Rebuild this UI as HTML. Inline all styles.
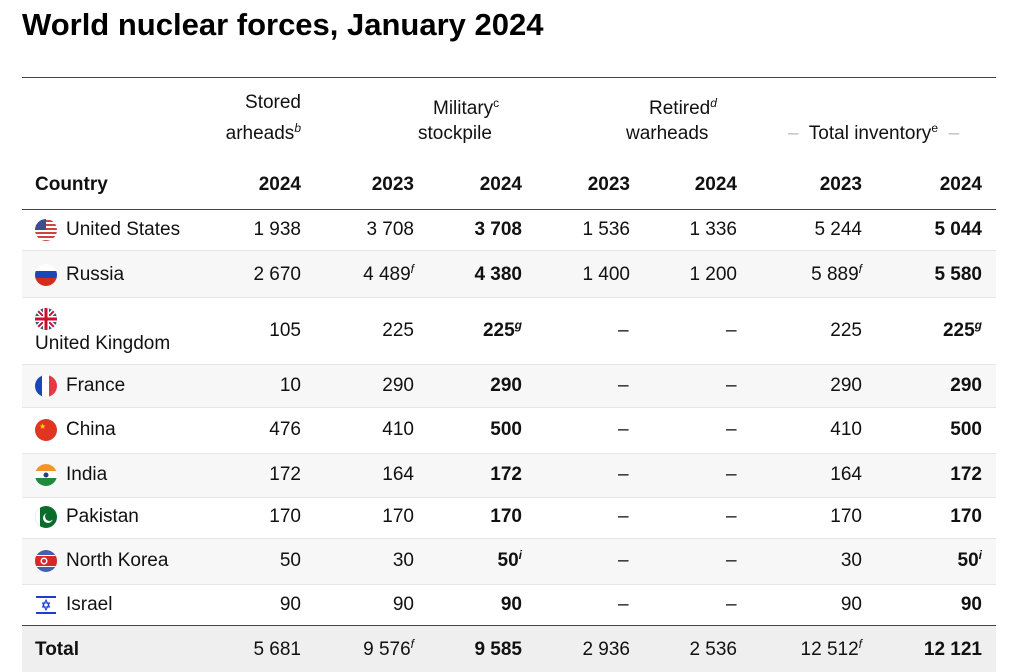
<!DOCTYPE html><html><head><style>
body{margin:0;width:1024px;height:672px;background:#fff;font-family:"Liberation Sans",sans-serif;color:#111;position:relative;overflow:hidden}
.a{position:absolute;white-space:nowrap;font-size:19px;line-height:22px}
.r{text-align:right;width:120px}
.b{font-weight:bold}
.bg{position:absolute;left:22px;width:974px}
.ln{position:absolute;left:22px;width:974px;height:1px}
sup{font-size:12px;font-style:italic;vertical-align:7px;line-height:0}
svg{position:absolute}
</style></head><body>
<div class="a" style="left:22px;top:6px;font-size:31px;line-height:38px;font-weight:bold;color:#000">World nuclear forces, January 2024</div>
<div class="ln" style="top:77px;background:#444"></div>
<div class="ln" style="top:209px;background:#444"></div>
<div class="bg" style="top:251px;height:46px;background:#f7f7f7"></div>
<div class="bg" style="top:364px;height:43px;background:#f7f7f7"></div>
<div class="bg" style="top:453px;height:44px;background:#f7f7f7"></div>
<div class="bg" style="top:538px;height:46px;background:#f7f7f7"></div>
<div class="bg" style="top:626px;height:46px;background:#efefef"></div>
<div class="ln" style="top:250px;background:#e6e6e6"></div>
<div class="ln" style="top:297px;background:#e6e6e6"></div>
<div class="ln" style="top:364px;background:#e6e6e6"></div>
<div class="ln" style="top:407px;background:#e6e6e6"></div>
<div class="ln" style="top:453px;background:#e6e6e6"></div>
<div class="ln" style="top:497px;background:#e6e6e6"></div>
<div class="ln" style="top:538px;background:#e6e6e6"></div>
<div class="ln" style="top:584px;background:#e6e6e6"></div>
<div class="ln" style="top:625px;background:#444"></div>

<div class="a r" style="left:181px;top:92px">Stored</div>
<div class="a r" style="left:181px;top:123px">arheads<sup>b</sup></div>
<div class="a" style="left:433px;top:98px">Military<sup style="font-style:normal">c</sup></div>
<div class="a" style="left:418px;top:123px">stockpile</div>
<div class="a" style="left:649px;top:98px">Retired<sup>d</sup></div>
<div class="a" style="left:626px;top:123px">warheads</div>
<div class="a" style="left:788px;top:123px"><span style="color:#bbb">–</span>&nbsp; Total inventory<sup style="font-style:normal">e</sup>&nbsp; <span style="color:#bbb">–</span></div>

<div class="a b" style="left:35px;top:174px">Country</div>
<div class="a r b" style="left:181px;top:174px">2024</div>
<div class="a r b" style="left:294px;top:174px">2023</div>
<div class="a r b" style="left:402px;top:174px">2024</div>
<div class="a r b" style="left:510px;top:174px">2023</div>
<div class="a r b" style="left:617px;top:174px">2024</div>
<div class="a r b" style="left:742px;top:174px">2023</div>
<div class="a r b" style="left:862px;top:174px">2024</div>

<svg style="left:35px;top:219px" width="22" height="22" viewBox="0 0 22 22"><clipPath id="c1"><circle cx="11" cy="11" r="11"/></clipPath><g clip-path="url(#c1)"><rect width="22" height="22" fill="#fff"/><g fill="#c44"><rect y="1" width="22" height="2"/><rect y="5" width="22" height="2"/><rect y="9" width="22" height="2"/><rect y="13" width="22" height="2"/><rect y="17" width="22" height="2"/><rect y="21" width="22" height="2"/></g><rect width="11" height="11" fill="#3c4f8a"/></g></svg>
<div class="a" style="left:66px;top:219px">United States</div>
<div class="a r" style="left:181px;top:219px">1 938</div><div class="a r" style="left:294px;top:219px">3 708</div><div class="a r b" style="left:402px;top:219px">3 708</div><div class="a r" style="left:510px;top:219px">1 536</div><div class="a r" style="left:617px;top:219px">1 336</div><div class="a r" style="left:742px;top:219px">5 244</div><div class="a r b" style="left:862px;top:219px">5 044</div>

<svg style="left:35px;top:264px" width="22" height="22"><clipPath id="c2"><circle cx="11" cy="11" r="11"/></clipPath><g clip-path="url(#c2)"><rect width="22" height="8" fill="#fff"/><rect y="7" width="22" height="8" fill="#1a47b8"/><rect y="14" width="22" height="8" fill="#d52b1e"/></g></svg>
<div class="a" style="left:66px;top:264px">Russia</div>
<div class="a r" style="left:181px;top:264px">2 670</div><div class="a r" style="left:294px;top:264px">4 489<sup>f</sup></div><div class="a r b" style="left:402px;top:264px">4 380</div><div class="a r" style="left:510px;top:264px">1 400</div><div class="a r" style="left:617px;top:264px">1 200</div><div class="a r" style="left:742px;top:264px">5 889<sup>f</sup></div><div class="a r b" style="left:862px;top:264px">5 580</div>

<svg style="left:35px;top:308px" width="22" height="22"><clipPath id="c3"><circle cx="11" cy="11" r="11"/></clipPath><g clip-path="url(#c3)"><rect width="22" height="22" fill="#3c4f8a"/><path d="M0 0L22 22M22 0L0 22" stroke="#fff" stroke-width="5"/><path d="M0 0L22 22M22 0L0 22" stroke="#c8102e" stroke-width="2"/><rect x="8" width="6" height="22" fill="#fff"/><rect y="8" width="22" height="6" fill="#fff"/><rect x="9.5" width="3" height="22" fill="#c8102e"/><rect y="9.5" width="22" height="3" fill="#c8102e"/></g></svg>
<div class="a" style="left:35px;top:333px">United Kingdom</div>
<div class="a r" style="left:181px;top:320px">105</div><div class="a r" style="left:294px;top:320px">225</div><div class="a r b" style="left:402px;top:320px">225<sup>g</sup></div><div class="a" style="left:618px;top:320px">–</div><div class="a" style="left:726px;top:320px">–</div><div class="a r" style="left:742px;top:320px">225</div><div class="a r b" style="left:862px;top:320px">225<sup>g</sup></div>

<svg style="left:35px;top:375px" width="22" height="22"><clipPath id="c4"><circle cx="11" cy="11" r="11"/></clipPath><g clip-path="url(#c4)"><rect width="8" height="22" fill="#1a47b8"/><rect x="7" width="8" height="22" fill="#fff"/><rect x="14" width="8" height="22" fill="#e63946"/></g></svg>
<div class="a" style="left:66px;top:375px">France</div>
<div class="a r" style="left:181px;top:375px">10</div><div class="a r" style="left:294px;top:375px">290</div><div class="a r b" style="left:402px;top:375px">290</div><div class="a" style="left:618px;top:375px">–</div><div class="a" style="left:726px;top:375px">–</div><div class="a r" style="left:742px;top:375px">290</div><div class="a r b" style="left:862px;top:375px">290</div>

<svg style="left:35px;top:419px" width="22" height="22"><circle cx="11" cy="11" r="11" fill="#e03522"/><text x="4" y="10" font-size="8" fill="#ffd500">★</text></svg>
<div class="a" style="left:66px;top:419px">China</div>
<div class="a r" style="left:181px;top:419px">476</div><div class="a r" style="left:294px;top:419px">410</div><div class="a r b" style="left:402px;top:419px">500</div><div class="a" style="left:618px;top:419px">–</div><div class="a" style="left:726px;top:419px">–</div><div class="a r" style="left:742px;top:419px">410</div><div class="a r b" style="left:862px;top:419px">500</div>

<svg style="left:35px;top:464px" width="22" height="22"><clipPath id="c6"><circle cx="11" cy="11" r="11"/></clipPath><g clip-path="url(#c6)"><rect width="22" height="8" fill="#f5922b"/><rect y="7" width="22" height="8" fill="#fff"/><rect y="14" width="22" height="8" fill="#1e8a3a"/><circle cx="11" cy="11" r="2.5" fill="#2a3a8a"/></g></svg>
<div class="a" style="left:66px;top:464px">India</div>
<div class="a r" style="left:181px;top:464px">172</div><div class="a r" style="left:294px;top:464px">164</div><div class="a r b" style="left:402px;top:464px">172</div><div class="a" style="left:618px;top:464px">–</div><div class="a" style="left:726px;top:464px">–</div><div class="a r" style="left:742px;top:464px">164</div><div class="a r b" style="left:862px;top:464px">172</div>

<svg style="left:35px;top:506px" width="22" height="22"><clipPath id="c7"><circle cx="11" cy="11" r="11"/></clipPath><g clip-path="url(#c7)"><rect width="22" height="22" fill="#0b6b2a"/><rect width="5" height="22" fill="#fff"/><circle cx="13" cy="12" r="5" fill="#fff"/><circle cx="14.5" cy="10.5" r="4.5" fill="#0b6b2a"/></g></svg>
<div class="a" style="left:66px;top:506px">Pakistan</div>
<div class="a r" style="left:181px;top:506px">170</div><div class="a r" style="left:294px;top:506px">170</div><div class="a r b" style="left:402px;top:506px">170</div><div class="a" style="left:618px;top:506px">–</div><div class="a" style="left:726px;top:506px">–</div><div class="a r" style="left:742px;top:506px">170</div><div class="a r b" style="left:862px;top:506px">170</div>

<svg style="left:35px;top:550px" width="22" height="22"><clipPath id="c8"><circle cx="11" cy="11" r="11"/></clipPath><g clip-path="url(#c8)"><rect width="22" height="22" fill="#3f61b0"/><rect y="5" width="22" height="12" fill="#fff"/><rect y="6" width="22" height="10" fill="#d62828"/><circle cx="9" cy="11" r="3.5" fill="#fff"/><circle cx="9" cy="11" r="2" fill="#d62828"/></g></svg>
<div class="a" style="left:66px;top:550px">North Korea</div>
<div class="a r" style="left:181px;top:550px">50</div><div class="a r" style="left:294px;top:550px">30</div><div class="a r b" style="left:402px;top:550px">50<sup>i</sup></div><div class="a" style="left:618px;top:550px">–</div><div class="a" style="left:726px;top:550px">–</div><div class="a r" style="left:742px;top:550px">30</div><div class="a r b" style="left:862px;top:550px">50<sup>i</sup></div>

<svg style="left:35px;top:594px" width="22" height="22"><rect x="1" y="2" width="20" height="18" fill="#fff"/><rect x="1" y="2" width="20" height="2" fill="#1a3ecf"/><rect x="1" y="18" width="20" height="2" fill="#1a3ecf"/><path d="M11 6L14.5 13H7.5ZM11 16L7.5 9H14.5Z" fill="none" stroke="#1a3ecf" stroke-width="1"/></svg>
<div class="a" style="left:66px;top:594px">Israel</div>
<div class="a r" style="left:181px;top:594px">90</div><div class="a r" style="left:294px;top:594px">90</div><div class="a r b" style="left:402px;top:594px">90</div><div class="a" style="left:618px;top:594px">–</div><div class="a" style="left:726px;top:594px">–</div><div class="a r" style="left:742px;top:594px">90</div><div class="a r b" style="left:862px;top:594px">90</div>

<div class="a b" style="left:35px;top:639px">Total</div>
<div class="a r" style="left:181px;top:639px">5 681</div><div class="a r" style="left:294px;top:639px">9 576<sup>f</sup></div><div class="a r b" style="left:402px;top:639px">9 585</div><div class="a r" style="left:510px;top:639px">2 936</div><div class="a r" style="left:617px;top:639px">2 536</div><div class="a r" style="left:742px;top:639px">12 512<sup>f</sup></div><div class="a r b" style="left:862px;top:639px">12 121</div>
</body></html>
